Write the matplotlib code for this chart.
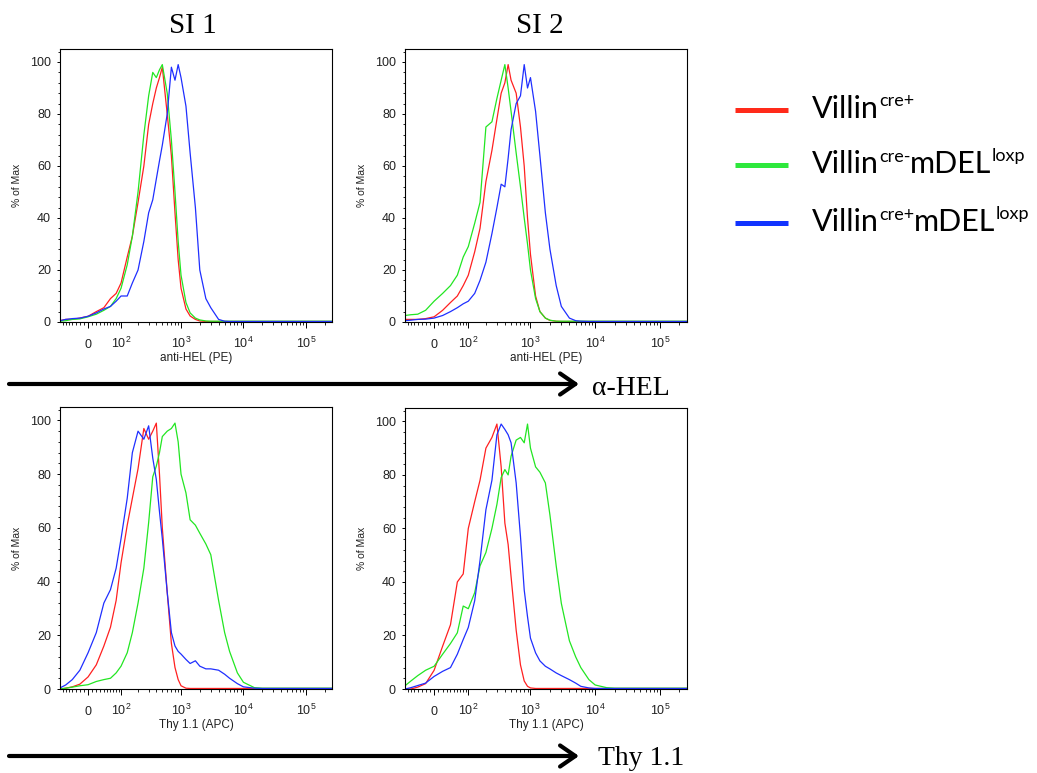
import numpy as np
import matplotlib.pyplot as plt
from matplotlib.ticker import MultipleLocator

plt.rcParams['font.family'] = ['Liberation Sans', 'DejaVu Sans']

W, H = 1037, 773

# fluorescence channel values shared by every histogram
channel = [-80, -60, -40, -20, 0, 20, 40, 60, 80, 100, 130, 160, 200, 250, 300,
           350, 400, 450, 500, 600, 700, 800, 900, 1000, 1200, 1400, 1700, 2000,
           2500, 3000, 4000, 5000, 6000, 8000, 10000, 15000, 20000, 50000, 262000]

# % of Max, anti-HEL (PE)
hel_si1_cre = [0.5, 1, 1, 1.5, 2.2, 4, 5.5, 9, 11, 15, 25, 33, 46, 60, 76, 84, 90, 94, 98, 80,
               64, 42, 24, 13, 5, 2.3, 1, 0.4, 0.2, 0.2, 0.2, 0.2, 0.2, 0.2, 0.2, 0.2, 0.2, 0.2, 0.2]
hel_si1_ctrl = [0.3, 0.5, 1, 1.2, 2, 3, 4.5, 6, 9, 13, 22, 33, 50, 72, 87, 96, 94, 97, 99, 88,
                70, 50, 31, 18, 7.5, 3.5, 1.5, 0.8, 0.4, 0.3, 0.3, 0.3, 0.3, 0.3, 0.3, 0.3, 0.3, 0.3, 0.3]
hel_si1_del = [0.5, 1, 1.3, 1.5, 2.2, 3.5, 5, 6, 8, 10, 10, 15, 20, 31, 42, 47, 55, 62, 68, 80,
               98, 93, 99, 94, 83, 65, 44, 20, 9, 5.5, 1, 0.3, 0.2, 0.2, 0.2, 0.2, 0.2, 0.2, 0.2]

hel_si2_cre = [1, 1, 1, 1.3, 2, 4.5, 7.5, 10, 14, 18, 27, 36, 54, 66, 78, 88, 92, 99, 93, 88,
               75, 60, 40, 26, 10, 4, 1.5, 0.6, 0.3, 0.2, 0.2, 0.2, 0.2, 0.2, 0.2, 0.2, 0.2, 0.2, 0.2]
hel_si2_ctrl = [2.5, 2.8, 3, 4.5, 8, 11, 14, 18, 25, 29, 38, 46, 75, 77, 86, 93, 99, 90, 81, 65,
                52, 40, 30, 20, 9, 4, 1.5, 0.7, 0.3, 0.3, 0.3, 0.3, 0.3, 0.3, 0.3, 0.3, 0.3, 0.3, 0.3]
hel_si2_del = [0.5, 0.7, 1, 1.1, 1.5, 2.5, 4, 5.5, 7, 8, 11, 16, 23, 34, 44, 53, 52, 63, 74, 84,
               87, 99, 90, 94, 81, 64, 42, 28, 14, 6, 1.5, 0.5, 0.3, 0.2, 0.2, 0.2, 0.2, 0.2, 0.2]

# % of Max, Thy 1.1 (APC)
thy_si1_cre = [0, 0.3, 0.8, 1.8, 4.5, 9, 16, 23, 33, 47, 61, 71, 82, 97, 93, 96, 99, 80, 60, 36,
               17, 8, 3.5, 1.2, 0.3, 0.2, 0.2, 0.2, 0.2, 0.2, 0.2, 0.2, 0.2, 0.2, 0.2, 0.2, 0.2, 0.2, 0.2]
thy_si1_ctrl = [0, 0.3, 0.7, 1.2, 1.6, 2.8, 3.5, 4, 6, 8.5, 13.5, 21, 32, 45, 62, 79, 83, 88, 94, 96,
                97, 99, 92, 80, 73, 63, 61, 58, 54, 50, 33, 21, 14, 6, 2.5, 0.5, 0.3, 0.3, 0.3]
thy_si1_del = [0.4, 1.5, 3.5, 7, 13.5, 21, 32, 37, 45, 56, 71, 88, 96, 93, 98, 86, 78, 66, 56, 36,
               21, 16, 14, 13, 11, 9.5, 10.5, 8.5, 7.5, 7.5, 7, 5.5, 4, 2, 0.8, 0.3, 0.2, 0.2, 0.2]

thy_si2_cre = [0, 0, 0.7, 2, 7, 16, 24, 40, 43, 60, 70, 78, 90, 94, 99, 83, 62, 54, 42, 22,
               9, 3, 1, 0.4, 0.2, 0.2, 0.2, 0.2, 0.2, 0.2, 0.2, 0.2, 0.2, 0.2, 0.2, 0.2, 0.2, 0.2, 0.2]
thy_si2_ctrl = [1.2, 3, 5, 7, 8.5, 13, 17, 21, 31, 30, 36, 46, 51, 60, 69, 79, 82, 80, 87, 93,
                94, 92, 99, 90, 83, 81, 77, 65, 46, 32, 18, 12, 8, 3.5, 1.5, 0.5, 0.3, 0.3, 0.3]
thy_si2_del = [0, 0.5, 1.3, 2.2, 4.7, 6.6, 8, 13, 18.5, 23, 33, 48, 67, 78, 95, 99, 97, 95, 92, 77,
               57, 37, 27, 19, 13.5, 10.5, 8.5, 7.5, 6, 5, 3.5, 2.2, 1, 0.4, 0.2, 0.2, 0.2, 0.2, 0.2]

line_colors = ['#ff2020', '#22e622', '#1f2fff']
legend_colors = ['#ff2a1a', '#2ee83c', '#1133ff']
legend_labels = [
    [('Villin', False), ('cre+', True)],
    [('Villin', False), ('cre-', True), ('mDEL', False), ('loxp', True)],
    [('Villin', False), ('cre+', True), ('mDEL', False), ('loxp', True)],
]
sample_titles = ['SI 1', 'SI 2']
marker_names = ['α-HEL', 'Thy 1.1']

major_x = [0, 1e2, 1e3, 1e4, 1e5]
major_x_labels = ['0', r'$\mathdefault{10^{2}}$', r'$\mathdefault{10^{3}}$',
                  r'$\mathdefault{10^{4}}$', r'$\mathdefault{10^{5}}$']
minor_x = ([-70, -60, -50, -40, -30, -20, -10, 10, 20, 30, 40, 50, 60, 70, 80, 90]
           + [k * 10 ** e for e in (2, 3, 4) for k in range(2, 10)] + [2e5])


def px_rect(left, top, right, bottom):
    return [left / W, 1 - bottom / H, (right - left) / W, (bottom - top) / H]


def to_scale(x):
    return np.arcsinh(np.asarray(x, dtype=float) / 65.0)


def from_scale(y):
    return 65.0 * np.sinh(y)


def draw_panel(fig, box, xlabel, curves):
    left, top, right, bottom = box
    ax = fig.add_axes(px_rect(*box))
    for values, color in zip(curves, line_colors):
        ax.plot(channel, values, color=color, lw=0.9)
    ax.set_xscale('function', functions=(to_scale, from_scale))
    ax.set_xlim(-80, 262144)
    ax.set_ylim(0, 105)

    ax.set_xticks(major_x)
    ax.set_xticklabels(major_x_labels)
    ax.set_xticks(minor_x, minor=True)
    ax.set_yticks(range(0, 101, 20))
    ax.yaxis.set_minor_locator(MultipleLocator(4))

    ax.tick_params(axis='x', which='major', length=4.5, width=0.7, pad=14,
                   labelsize=9, labelcolor='#222222')
    ax.tick_params(axis='x', which='minor', length=2.5, width=0.6)
    ax.tick_params(axis='y', which='major', length=2.5, width=0.7, pad=4,
                   labelsize=9, labelcolor='#222222')
    ax.tick_params(axis='y', which='minor', length=1.5, width=0.6)
    for lab in ax.get_xticklabels():
        lab.set_verticalalignment('baseline')

    for side in ax.spines.values():
        side.set_linewidth(0.8)

    ax.set_xlabel(xlabel, fontsize=8.5, color='#222222', va='center')
    ax.xaxis.set_label_coords(0.5, -36 / (bottom - top))
    ax.set_ylabel('% of Max', fontsize=7.5, color='#222222', va='center')
    ax.yaxis.set_label_coords(-43 / (right - left), 0.5)
    return ax


def draw_rich_text(ax, x, y, parts):
    # baseline pieces at full size, superscripts smaller and raised
    prev = None
    for text, sup in parts:
        size = 13 if sup else 22
        ty = y - 11.5 if sup else y
        if prev is None:
            prev = ax.text(x, ty, text, fontsize=size, family='Lato', va='baseline')
        else:
            prev = ax.annotate(text, xy=(1, ty), xycoords=(prev, 'data'),
                               fontsize=size, family='Lato', va='baseline', ha='left')


def main():
    fig = plt.figure(figsize=(W / 100, H / 100), dpi=100)

    draw_panel(fig, (60, 49, 332, 322), 'anti-HEL (PE)', [hel_si1_cre, hel_si1_ctrl, hel_si1_del])
    draw_panel(fig, (405, 49, 687, 322), 'anti-HEL (PE)', [hel_si2_cre, hel_si2_ctrl, hel_si2_del])
    draw_panel(fig, (60, 407, 332, 689), 'Thy 1.1 (APC)', [thy_si1_cre, thy_si1_ctrl, thy_si1_del])
    draw_panel(fig, (405, 408, 687, 689), 'Thy 1.1 (APC)', [thy_si2_cre, thy_si2_ctrl, thy_si2_del])

    # overlay in pixel coordinates for titles, arrows and legend
    over = fig.add_axes([0, 0, 1, 1])
    over.set_xlim(0, W)
    over.set_ylim(H, 0)
    over.axis('off')

    for title, cx in zip(sample_titles, [193, 540]):
        over.text(cx, 26, title, ha='center', va='center', family='Liberation Serif', fontsize=21)

    for name, ay, tx, ty in zip(marker_names, [384, 756], [592, 598], [395, 765]):
        over.annotate('', xy=(579, ay), xytext=(9, ay),
                      arrowprops=dict(arrowstyle='->,head_length=0.55,head_width=0.38',
                                      lw=3, color='black', shrinkA=0, shrinkB=0,
                                      mutation_scale=20))
        over.text(tx, ty, name, family='Liberation Serif', fontsize=20, va='baseline')

    for color, parts, ly in zip(legend_colors, legend_labels, [110, 165, 223]):
        over.plot([735, 788], [ly, ly], color=color, lw=3.6, solid_capstyle='butt')
        draw_rich_text(over, 812, ly + 8, parts)

    fig.savefig('out.png', dpi=100, facecolor='white')


if __name__ == '__main__':
    main()
